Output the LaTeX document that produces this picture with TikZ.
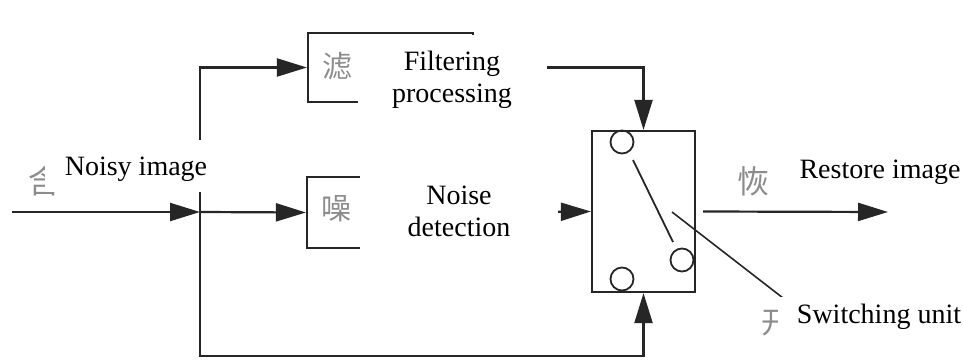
\documentclass[tikz,border=0pt]{standalone}
\usepackage{fontspec}
\setmainfont{Liberation Serif}
\newfontfamily\tnr{Liberation Serif}
\newfontfamily\cjk{Noto Sans CJK SC}
\usetikzlibrary{arrows.meta,calc}
\begin{document}
\begin{tikzpicture}[x=1pt,y=-1pt,
  ln/.style={draw=black!85,line width=2.2pt},
  arr/.style={ln,-{Triangle[length=30pt,width=18pt]}},
  blk/.style={ln,rectangle,inner sep=0pt},
  pin/.style={draw=black!85,line width=1.8pt,circle,inner sep=0pt,minimum size=23pt},
  lbl/.style={inner sep=0pt,align=center,font=\tnr\fontsize{28}{32}\selectfont},
  cn/.style={inner sep=0pt,anchor=west,text=black!45,font=\cjk\fontsize{30}{30}\selectfont},
  patch/.style={fill=white}]
\useasboundingbox (0,0) rectangle (963,361);
\fill[white] (0,0) rectangle (963,361);
% blocks
\node[blk,minimum width=165pt,minimum height=69pt] (filt) at (390.5,67.5) {};
\node[blk,minimum width=166pt,minimum height=71pt] (det) at (390,212.5) {};
\node[blk,minimum width=103pt,minimum height=161pt] (sw) at (643.5,211.5) {};
% coordinates
\coordinate (in) at (12,212);
\coordinate (j) at (200,212);
\coordinate (bl) at (200,356);
\coordinate (out) at (888,212);
\coordinate (lv1) at (633,160);
\coordinate (lv2) at (673,242);
\coordinate (ld1) at (672,212);
\coordinate (ld2) at (783,298);
% connectors
\draw[arr] (in) -- (j);
\draw[arr] (j) |- (filt.west);
\draw[arr] (j) -- (det.west);
\draw[arr] (j) -- (bl) -| (sw.south);
\draw[arr] (filt.east) -| (sw.north);
\draw[arr] (det.east) -- (sw.west);
\draw[arr] ([xshift=7pt]sw.east) -- (out);
% switch internals
\node[pin] (p1) at (622,142) {};
\node[pin] (p2) at (622,279) {};
\node[pin] (p3) at (682,260) {};
\draw[draw=black!85,line width=1.8pt] (lv1) -- (lv2);
\draw[draw=black!85,line width=1.6pt] (ld1) -- (ld2);
% original labels, mostly covered: only first characters show
\node[cn,font=\cjk\fontsize{32}{32}\selectfont] (cin) at (28,181) {含};
\node[cn] (cfilt) at (322,66) {滤};
\node[cn] (cdet) at (321,209) {噪};
\node[cn,font=\cjk\fontsize{32}{32}\selectfont] (cout) at (737,181) {恢};
\node[cn] (csw) at (761,323) {开};
% white patches
\fill[patch] (45,140) rectangle (210,192);
\fill[patch] (358,35) rectangle (547,127);
\fill[patch] (360,167) rectangle (558,253);
\fill[patch] (782,157) rectangle (963,195);
\fill[patch] (778,297) rectangle (963,361);
% English labels
\node[lbl,anchor=base] (tin) at (136,175) {Noisy image};
\node[lbl] (tfilt) at (452,80) {Filtering\\processing};
\node[lbl] (tdet) at (459,211) {Noise\\detection};
\node[lbl,anchor=base] (tout) at (880,178) {Restore image};
\node[lbl,anchor=base] (tsw) at (879,323) {Switching unit};
\end{tikzpicture}
\end{document}
